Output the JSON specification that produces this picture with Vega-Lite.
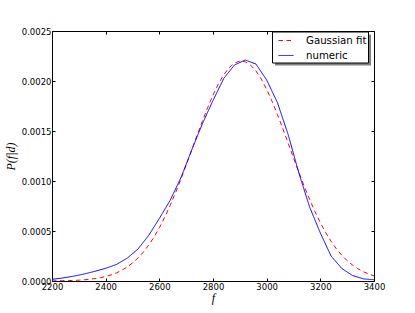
{
  "$schema": "https://vega.github.io/schema/vega-lite/v6.json",
  "width": 322,
  "height": 250,
  "autosize": {"type": "none"},
  "padding": {"left": 52, "top": 31, "right": 41, "bottom": 32},
  "background": "white",
  "data": {"values": [
    {"f": 2200, "p": 0.000001, "series": "Gaussian fit"},
    {"f": 2220, "p": 0.000002, "series": "Gaussian fit"},
    {"f": 2240, "p": 0.000003, "series": "Gaussian fit"},
    {"f": 2260, "p": 0.000004, "series": "Gaussian fit"},
    {"f": 2280, "p": 0.000006, "series": "Gaussian fit"},
    {"f": 2300, "p": 0.000008, "series": "Gaussian fit"},
    {"f": 2320, "p": 0.000012, "series": "Gaussian fit"},
    {"f": 2340, "p": 0.000017, "series": "Gaussian fit"},
    {"f": 2360, "p": 0.000024, "series": "Gaussian fit"},
    {"f": 2380, "p": 0.000033, "series": "Gaussian fit"},
    {"f": 2400, "p": 0.000045, "series": "Gaussian fit"},
    {"f": 2420, "p": 0.000061, "series": "Gaussian fit"},
    {"f": 2440, "p": 0.000081, "series": "Gaussian fit"},
    {"f": 2460, "p": 0.000107, "series": "Gaussian fit"},
    {"f": 2480, "p": 0.000140, "series": "Gaussian fit"},
    {"f": 2500, "p": 0.000180, "series": "Gaussian fit"},
    {"f": 2520, "p": 0.000229, "series": "Gaussian fit"},
    {"f": 2540, "p": 0.000288, "series": "Gaussian fit"},
    {"f": 2560, "p": 0.000358, "series": "Gaussian fit"},
    {"f": 2580, "p": 0.000439, "series": "Gaussian fit"},
    {"f": 2600, "p": 0.000532, "series": "Gaussian fit"},
    {"f": 2620, "p": 0.000637, "series": "Gaussian fit"},
    {"f": 2640, "p": 0.000753, "series": "Gaussian fit"},
    {"f": 2660, "p": 0.000880, "series": "Gaussian fit"},
    {"f": 2680, "p": 0.001016, "series": "Gaussian fit"},
    {"f": 2700, "p": 0.001158, "series": "Gaussian fit"},
    {"f": 2720, "p": 0.001305, "series": "Gaussian fit"},
    {"f": 2740, "p": 0.001452, "series": "Gaussian fit"},
    {"f": 2760, "p": 0.001596, "series": "Gaussian fit"},
    {"f": 2780, "p": 0.001733, "series": "Gaussian fit"},
    {"f": 2800, "p": 0.001859, "series": "Gaussian fit"},
    {"f": 2820, "p": 0.001970, "series": "Gaussian fit"},
    {"f": 2840, "p": 0.002063, "series": "Gaussian fit"},
    {"f": 2860, "p": 0.002133, "series": "Gaussian fit"},
    {"f": 2880, "p": 0.002179, "series": "Gaussian fit"},
    {"f": 2900, "p": 0.002199, "series": "Gaussian fit"},
    {"f": 2920, "p": 0.002192, "series": "Gaussian fit"},
    {"f": 2940, "p": 0.002159, "series": "Gaussian fit"},
    {"f": 2960, "p": 0.002101, "series": "Gaussian fit"},
    {"f": 2980, "p": 0.002019, "series": "Gaussian fit"},
    {"f": 3000, "p": 0.001917, "series": "Gaussian fit"},
    {"f": 3020, "p": 0.001798, "series": "Gaussian fit"},
    {"f": 3040, "p": 0.001666, "series": "Gaussian fit"},
    {"f": 3060, "p": 0.001525, "series": "Gaussian fit"},
    {"f": 3080, "p": 0.001379, "series": "Gaussian fit"},
    {"f": 3100, "p": 0.001231, "series": "Gaussian fit"},
    {"f": 3120, "p": 0.001087, "series": "Gaussian fit"},
    {"f": 3140, "p": 0.000947, "series": "Gaussian fit"},
    {"f": 3160, "p": 0.000816, "series": "Gaussian fit"},
    {"f": 3180, "p": 0.000694, "series": "Gaussian fit"},
    {"f": 3200, "p": 0.000583, "series": "Gaussian fit"},
    {"f": 3220, "p": 0.000484, "series": "Gaussian fit"},
    {"f": 3240, "p": 0.000397, "series": "Gaussian fit"},
    {"f": 3260, "p": 0.000321, "series": "Gaussian fit"},
    {"f": 3280, "p": 0.000257, "series": "Gaussian fit"},
    {"f": 3300, "p": 0.000203, "series": "Gaussian fit"},
    {"f": 3320, "p": 0.000159, "series": "Gaussian fit"},
    {"f": 3340, "p": 0.000123, "series": "Gaussian fit"},
    {"f": 3360, "p": 0.000093, "series": "Gaussian fit"},
    {"f": 3380, "p": 0.000070, "series": "Gaussian fit"},
    {"f": 3400, "p": 0.000052, "series": "Gaussian fit"},
    {"f": 2200, "p": 0.000017, "series": "numeric"},
    {"f": 2240, "p": 0.000030, "series": "numeric"},
    {"f": 2280, "p": 0.000048, "series": "numeric"},
    {"f": 2320, "p": 0.000070, "series": "numeric"},
    {"f": 2360, "p": 0.000097, "series": "numeric"},
    {"f": 2400, "p": 0.000127, "series": "numeric"},
    {"f": 2440, "p": 0.000165, "series": "numeric"},
    {"f": 2480, "p": 0.000228, "series": "numeric"},
    {"f": 2520, "p": 0.000318, "series": "numeric"},
    {"f": 2560, "p": 0.000455, "series": "numeric"},
    {"f": 2600, "p": 0.000625, "series": "numeric"},
    {"f": 2640, "p": 0.000805, "series": "numeric"},
    {"f": 2680, "p": 0.001030, "series": "numeric"},
    {"f": 2720, "p": 0.001305, "series": "numeric"},
    {"f": 2760, "p": 0.001570, "series": "numeric"},
    {"f": 2800, "p": 0.001805, "series": "numeric"},
    {"f": 2840, "p": 0.002025, "series": "numeric"},
    {"f": 2880, "p": 0.002160, "series": "numeric"},
    {"f": 2920, "p": 0.002210, "series": "numeric"},
    {"f": 2960, "p": 0.002170, "series": "numeric"},
    {"f": 3000, "p": 0.002010, "series": "numeric"},
    {"f": 3040, "p": 0.001785, "series": "numeric"},
    {"f": 3080, "p": 0.001465, "series": "numeric"},
    {"f": 3120, "p": 0.001080, "series": "numeric"},
    {"f": 3160, "p": 0.000740, "series": "numeric"},
    {"f": 3200, "p": 0.000480, "series": "numeric"},
    {"f": 3240, "p": 0.000250, "series": "numeric"},
    {"f": 3280, "p": 0.000125, "series": "numeric"},
    {"f": 3320, "p": 0.000055, "series": "numeric"},
    {"f": 3360, "p": 0.000022, "series": "numeric"},
    {"f": 3400, "p": 0.000012, "series": "numeric"}
  ]},
  "layer": [
    {
      "mark": {"type": "line", "strokeWidth": 1, "clip": true},
      "encoding": {
        "x": {"field": "f", "type": "quantitative",
          "scale": {"domain": [2200, 3400], "nice": false, "zero": false},
          "axis": {"orient": "bottom", "values": [2200, 2400, 2600, 2800, 3000, 3200, 3400], "format": "d", "title": "f", "titlePadding": 2}},
        "y": {"field": "p", "type": "quantitative",
          "scale": {"domain": [0, 0.0025], "nice": false},
          "axis": {"orient": "left", "values": [0, 0.0005, 0.001, 0.0015, 0.002, 0.0025], "format": ".4f", "title": "P(f|d)", "titlePadding": 4}},
        "color": {"field": "series", "type": "nominal",
          "scale": {"domain": ["Gaussian fit", "numeric"], "range": ["#ff0000", "#0000ff"]},
          "legend": {"title": null, "zindex": 2}},
        "strokeDash": {"field": "series", "type": "nominal",
          "scale": {"domain": ["Gaussian fit", "numeric"], "range": [[4.5, 3.5], [1, 0]]},
          "legend": {"title": null, "zindex": 2}}
      }
    },
    {
      "mark": {"type": "point", "opacity": 0},
      "encoding": {
        "x": {"field": "f", "type": "quantitative",
          "axis": {"orient": "top", "values": [2200, 2400, 2600, 2800, 3000, 3200, 3400], "labels": false, "title": null}},
        "y": {"field": "p", "type": "quantitative",
          "axis": {"orient": "right", "values": [0, 0.0005, 0.001, 0.0015, 0.002, 0.0025], "labels": false, "title": null}},
        "size": {"field": "series", "type": "nominal",
          "scale": {"range": [225, 225]},
          "legend": {"title": null, "zindex": 1, "legendX": 222.5, "legendY": 3,
            "fillColor": "#808080", "strokeColor": "transparent",
            "symbolOpacity": 0, "labelExpr": "''", "labelOffset": 72.5}}
      }
    }
  ],
  "resolve": {"axis": {"x": "independent", "y": "independent"}},
  "config": {
    "view": {"stroke": "#000000", "strokeWidth": 1},
    "axis": {
      "domain": false, "grid": false,
      "ticks": true, "tickSize": -3, "tickColor": "#000000", "tickWidth": 1,
      "labelFont": "DejaVu Sans", "labelFontSize": 8.5, "labelColor": "#000000",
      "labelPadding": 4, "labelFlush": false, "labelOverlap": false,
      "titleFont": "Liberation Serif", "titleFontStyle": "italic", "titleFontWeight": "normal",
      "titleFontSize": 12, "titleColor": "#000000"
    },
    "legend": {
      "orient": "none", "legendX": 220, "legendY": 0.5,
      "fillColor": "#ffffff", "strokeColor": "#000000",
      "padding": 1, "symbolOffset": 5,
      "symbolType": "stroke", "symbolSize": 225, "symbolStrokeWidth": 1,
      "labelFont": "DejaVu Sans", "labelFontSize": 10.2, "labelColor": "#000000",
      "labelOffset": 12, "rowPadding": 1
    }
  }
}
